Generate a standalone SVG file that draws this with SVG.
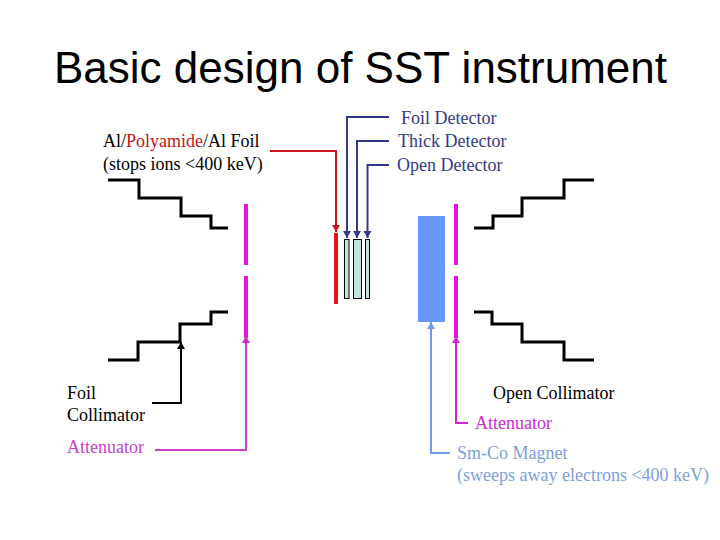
<svg xmlns="http://www.w3.org/2000/svg" width="720" height="540" viewBox="0 0 720 540">
<style>
text{font-family:"Liberation Serif","Times New Roman",serif;font-size:18px;fill:#000}
.title{font-family:"Liberation Sans",Arial,sans-serif;font-size:44px}
.stair{fill:none;stroke:#000;stroke-width:3}
.bar{fill:#e812e8}
.det{fill:#c0e2e2;stroke:#000;stroke-width:1}
.c{fill:none;stroke-width:2}
.navy{stroke:#333a85}.red{stroke:#c4161c}.mag{stroke:#cc3fcc}.mag2{stroke:#d028d0}.blu{stroke:#6f9be8}.blk{stroke:#000}
.navyt{fill:#333a85}.attl{fill:#c840c8}.attr{fill:#d028d0}.blut{fill:#7b9fdc}
</style>
<defs>
<marker id="an" markerUnits="userSpaceOnUse" markerWidth="9" markerHeight="9" refX="7" refY="4" orient="auto"><path d="M0 0L7 4L0 8Z" fill="#333a85"/></marker>
<marker id="ar" markerUnits="userSpaceOnUse" markerWidth="9" markerHeight="9" refX="7" refY="4" orient="auto"><path d="M0 0L7 4L0 8Z" fill="#c4161c"/></marker>
<marker id="am" markerUnits="userSpaceOnUse" markerWidth="9" markerHeight="9" refX="7" refY="4" orient="auto"><path d="M0 0L7 4L0 8Z" fill="#d028d0"/></marker>
<marker id="ab" markerUnits="userSpaceOnUse" markerWidth="9" markerHeight="9" refX="7" refY="4" orient="auto"><path d="M0 0L7 4L0 8Z" fill="#6f9be8"/></marker>
<marker id="ak" markerUnits="userSpaceOnUse" markerWidth="9" markerHeight="9" refX="7" refY="4" orient="auto"><path d="M0 0L7 4L0 8Z" fill="#000"/></marker>
</defs>
<rect width="720" height="540" fill="#fff"/>
<text class="title" x="54" y="83">Basic design of SST instrument</text>

<g id="foil-collimator-upper"><path class="stair" d="M108 180H139V198H181V216H211V228H228"/></g>
<g id="foil-collimator-lower"><path class="stair" d="M108 360H138V342H180V324H211V312H228"/></g>
<g id="open-collimator-upper"><path class="stair" d="M474 228H493V216H522V198H564V180H594"/></g>
<g id="open-collimator-lower"><path class="stair" d="M474 312H492V324H522V342H564V360H594"/></g>
<g id="attenuator-left"><rect class="bar" x="244" y="204" width="4" height="61"/><rect class="bar" x="244" y="276" width="4" height="62"/></g>
<g id="attenuator-right"><rect class="bar" x="454" y="204" width="4" height="61"/><rect class="bar" x="454" y="276" width="4" height="62"/></g>
<g id="foil"><rect x="334" y="233" width="4" height="71" fill="#e8101c"/></g>
<g id="detectors">
<rect class="det" x="344.500" y="239.500" width="4.500" height="59"/>
<rect class="det" x="353.500" y="239.500" width="8" height="59"/>
<rect class="det" x="365.500" y="239.500" width="4" height="59"/>
</g>
<g id="magnet"><rect x="418" y="216" width="27" height="106" fill="#6699ff"/></g>

<g id="connectors">
<path class="c red" d="M270 151H336V232" marker-end="url(#ar)"/>
<path class="c navy" d="M389 117H347V238" marker-end="url(#an)"/>
<path class="c navy" d="M389 141H357V238" marker-end="url(#an)"/>
<path class="c navy" d="M389 165H367.500V238" marker-end="url(#an)"/>
<path class="c blk" d="M152 403H181V342" marker-end="url(#ak)"/>
<path class="c mag" d="M155 450H246V336" marker-end="url(#am)"/>
<path class="c mag2" d="M468 423H456V336" marker-end="url(#am)"/>
<path class="c blu" d="M450 453H431V322" marker-end="url(#ab)"/>
</g>

<g id="labels">
<text x="103" y="147">Al/<tspan fill="#c4161c">Polyamide</tspan>/Al Foil</text>
<text x="103" y="170">(stops ions &lt;400 keV)</text>
<text class="navyt" x="401" y="124">Foil Detector</text>
<text class="navyt" x="398" y="147">Thick Detector</text>
<text class="navyt" x="397" y="171">Open Detector</text>
<text x="67" y="399">Foil</text>
<text x="67" y="421">Collimator</text>
<text class="attl" x="67" y="453">Attenuator</text>
<text x="493" y="399">Open Collimator</text>
<text class="attr" x="475" y="429">Attenuator</text>
<text class="blut" x="457" y="459">Sm-Co Magnet</text>
<text class="blut" x="457" y="481">(sweeps away electrons &lt;400 keV)</text>
</g>
</svg>
